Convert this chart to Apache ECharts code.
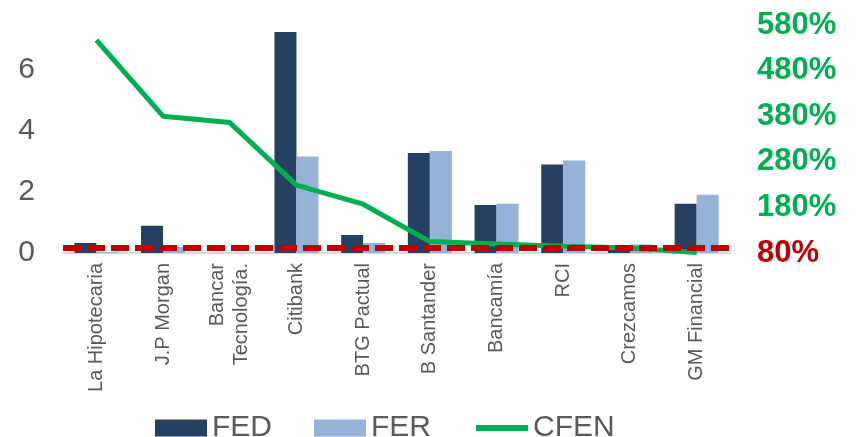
<!DOCTYPE html>
<html>
<head>
<meta charset="utf-8">
<script src="https://cdn.jsdelivr.net/npm/echarts@6/dist/echarts.min.js"></script>
<style>
  html, body { margin: 0; padding: 0; background: #fff; }
  #chart { width: 858px; height: 437px; }
</style>
</head>
<body>
<div id="chart"></div>
<script>
const categories = ['La Hipotecaria', 'J.P Morgan', 'Bancar\nTecnología.', 'Citibank', 'BTG Pactual',
  'B Santander', 'Bancamía', 'RCI', 'Crezcamos', 'GM Financial']
const fed = [0.33, 0.89, 0, 7.22, 0.59, 3.27, 1.57, 2.89, 0.25, 1.61]
const fer = [0.04, 0.2, 0, 3.15, 0.33, 3.33, 1.61, 3.02, 0.28, 1.9]
const cfen = [547, 380, 366, 229, 187, 105, 100, 95, 91, 81]
const threshold = 91

const grey = '#595959'
const font = "'Liberation Sans', Arial, sans-serif"

const chart = echarts.init(document.getElementById('chart'), null, { renderer: 'canvas' })
chart.setOption({
  animation: false,
  textStyle: { fontFamily: font },
  grid: { left: 63, right: 128, top: 25, bottom: 184 },
  legend: {
    top: 408,
    left: 150,
    itemWidth: 52,
    itemHeight: 17,
    itemGap: 42,
    textStyle: { color: grey, fontSize: 30, fontFamily: font },
    data: [
      { name: 'FED', icon: 'rect' },
      { name: 'FER', icon: 'rect' },
      // hide the circle echarts puts on line legend icons
      { name: 'CFEN', itemStyle: { opacity: 0 }, lineStyle: { width: 6 } },
    ],
  },
  xAxis: {
    type: 'category',
    data: categories,
    axisLine: { lineStyle: { color: '#D9D9D9', width: 2 } },
    axisTick: { show: false },
    axisLabel: {
      rotate: 90,
      interval: 0,
      margin: 10,
      color: grey,
      fontSize: 20,
      lineHeight: 24,
      fontFamily: font,
    },
  },
  yAxis: [
    {
      type: 'value',
      min: 0,
      max: 7.45,
      interval: 2,
      splitLine: { show: false },
      axisLine: { show: false },
      axisTick: { show: false },
      axisLabel: { color: grey, fontSize: 30, margin: 28, showMaxLabel: false, fontFamily: font },
    },
    {
      type: 'value',
      min: 80,
      max: 580,
      interval: 100,
      splitLine: { show: false },
      axisLine: { show: false },
      axisTick: { show: false },
      axisLabel: {
        margin: 27,
        fontFamily: font,
        formatter: (v) => v === 80 ? '{red|' + v + '%}' : '{green|' + v + '%}',
        rich: {
          red: { color: '#C00000', fontSize: 31, fontWeight: 'bold', fontFamily: font },
          green: { color: '#00B050', fontSize: 31, fontWeight: 'bold', fontFamily: font },
        },
      },
    },
  ],
  series: [
    {
      name: 'FED',
      type: 'bar',
      data: fed,
      barGap: '0%',
      barCategoryGap: '34%',
      itemStyle: { color: '#264061' },
    },
    {
      name: 'FER',
      type: 'bar',
      data: fer,
      itemStyle: { color: '#95B3D7' },
    },
    {
      name: 'CFEN',
      type: 'line',
      yAxisIndex: 1,
      data: cfen,
      symbol: 'none',
      lineStyle: { color: '#00B050', width: 5 },
      itemStyle: { color: '#00B050' },
      z: 3,
    },
    {
      name: 'threshold',
      type: 'line',
      yAxisIndex: 1,
      data: [],
      z: 4,
      markLine: {
        silent: true,
        symbol: 'none',
        label: { show: false },
        lineStyle: { color: '#C00000', width: 6, type: [18, 6] },
        data: [{ yAxis: threshold }],
      },
    },
  ],
})
</script>
</body>
</html>
